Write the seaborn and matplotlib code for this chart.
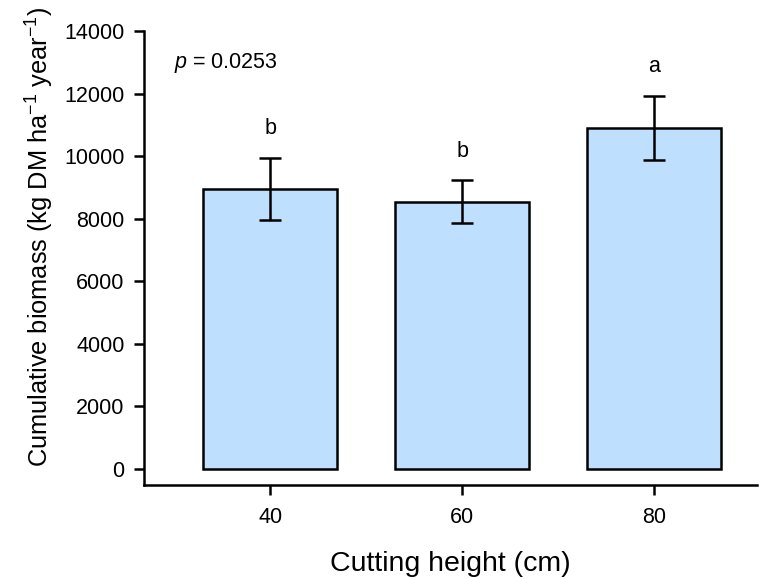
import pandas as pd
import seaborn as sns
import matplotlib
matplotlib.use("Agg")
import matplotlib.pyplot as plt

# values
heights = ["40", "60", "80"]
biomass = [8950, 8550, 10900]
biomass_se = [1000, 680, 1030]
letters = ["b", "b", "a"]
p_text = "$p$ = 0.0253"

sns.set_style("ticks")
plt.rcParams["font.family"] = ["Liberation Sans", "DejaVu Sans"]
plt.rcParams["mathtext.fontset"] = "custom"
plt.rcParams["mathtext.rm"] = "Liberation Sans"
plt.rcParams["mathtext.it"] = "Liberation Sans:italic"
plt.rcParams["text.color"] = "black"
plt.rcParams["axes.labelcolor"] = "black"
plt.rcParams["xtick.color"] = "black"
plt.rcParams["ytick.color"] = "black"

df = pd.DataFrame({"height": heights, "biomass": biomass, "se": biomass_se})

fig = plt.figure(figsize=(7.65, 5.79), dpi=100)
ax = fig.add_axes([0.188, 0.162, 0.802, 0.784])

sns.barplot(data=df, x="height", y="biomass", color="#bfdfff", saturation=1,
            edgecolor="black", linewidth=1.8, width=0.7, errorbar=None, ax=ax)

# error bars and significance letters
for i, row in df.iterrows():
    ax.errorbar(i, row["biomass"], yerr=row["se"], color="black", elinewidth=1.8,
                capsize=8, capthick=1.8, fmt="none")
    ax.text(i, row["biomass"] + row["se"] + 600, letters[i], ha="center",
            va="bottom", fontsize=15.5)

ax.text(0.05, 0.93, p_text, transform=ax.transAxes, fontsize=15.5, va="center")

ax.set_xlim(-0.66, 2.54)
ax.set_ylim(-520, 14000)
ax.set_yticks(range(0, 14001, 2000))
ax.set_xlabel("Cutting height (cm)", fontsize=20.5, labelpad=16)
ax.set_ylabel("Cumulative biomass (kg DM ha$^{-1}$ year$^{-1}$)", fontsize=18.3,
              va="center")
ax.yaxis.set_label_coords(-0.17, 0.546)
ax.tick_params(labelsize=15.5, width=1.8, length=7)
ax.tick_params(axis="x", pad=9)
ax.tick_params(axis="y", pad=7)
for side in ["left", "bottom"]:
    ax.spines[side].set_linewidth(1.8)
    ax.spines[side].set_color("black")
sns.despine(ax=ax)

fig.savefig("out.png", dpi=100)
